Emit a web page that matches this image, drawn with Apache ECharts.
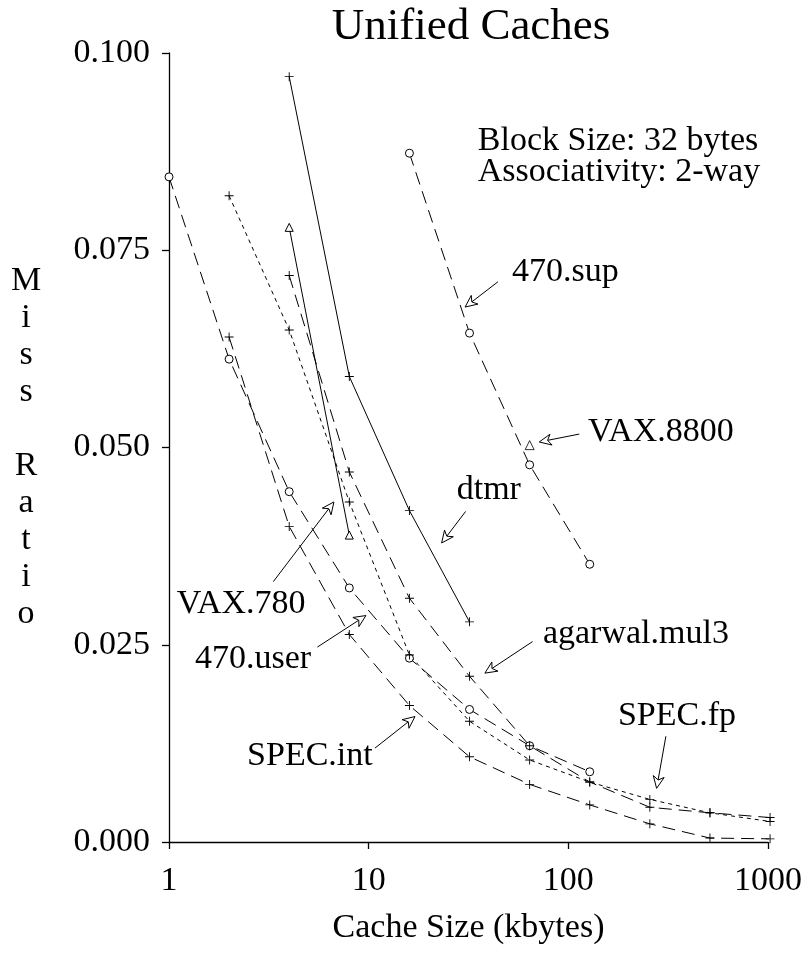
<!DOCTYPE html>
<html>
<head>
<meta charset="utf-8">
<script src="https://cdn.jsdelivr.net/npm/echarts@6/dist/echarts.min.js"></script>
<style>
html,body{margin:0;padding:0;background:#fff;}
#chart{width:809px;height:965px;}
</style>
</head>
<body>
<div id="chart"></div>
<script>
// ---- data (cache size in kbytes, miss ratio) ----
const sup470X = [16, 32, 64, 128];
const sup470Y = [0.0873, 0.0645, 0.0478, 0.0352];

const vax8800X = [64];
const vax8800Y = [0.0503];

const dtmrX = [4, 8, 16, 32];
const dtmrY = [0.0970, 0.0590, 0.0420, 0.0279];

const vax780X = [4, 8];
const vax780Y = [0.0779, 0.0389];

const user470X = [1, 2, 4, 8, 16, 32, 64, 128];
const user470Y = [0.0843, 0.0612, 0.0444, 0.0322, 0.0233, 0.0168, 0.0122, 0.0089];

const specFpX = [2, 4, 8, 16, 32, 64, 128, 256, 512, 1024];
const specFpY = [0.0819, 0.0649, 0.0431, 0.0237, 0.0153, 0.0104, 0.0076, 0.0054, 0.0037, 0.0026];

const agarwalX = [4, 8, 16, 32, 64, 128, 256, 512, 1024];
const agarwalY = [0.0718, 0.0469, 0.0309, 0.0210, 0.0122, 0.0076, 0.0044, 0.0037, 0.0031];

const specIntX = [2, 4, 8, 16, 32, 64, 128, 256, 512, 1024];
const specIntY = [0.0640, 0.0400, 0.0263, 0.0173, 0.0108, 0.0073, 0.0047, 0.0023, 0.0005, 0.0004];

const xTickLabels = ['1', '10', '100', '1000'];

// ---- annotations (data coordinates) ----
const annoText  = ['470.sup', 'VAX.8800', 'dtmr', 'VAX.780', '470.user', 'SPEC.int', 'agarwal.mul3', 'SPEC.fp'];
const annoTextX = [52.2, 125.4, 27.6, 1.093, 1.35, 2.46, 74.6, 177.2];
const annoTextY = [0.0722, 0.0520, 0.0446, 0.0301, 0.0232, 0.0109, 0.0264, 0.0159];
const arrowFromX = [44.4, 113.4, 30.6, 3.33, 5.53, 10.75, 66.2, 308];
const arrowFromY = [0.0710, 0.0517, 0.0419, 0.0330, 0.0247, 0.0119, 0.0254, 0.0134];
const arrowToX = [30.4, 71.5, 23.2, 6.70, 9.69, 17.06, 38.2, 276.8];
const arrowToY = [0.0678, 0.0507, 0.0379, 0.0431, 0.0287, 0.0159, 0.0214, 0.0068];

const noteText = ['Block Size: 32 bytes', 'Associativity: 2-way'];
const noteX = [35.2, 35.2];
const noteY = [0.0889, 0.0849];

const FONT = '"Liberation Serif", "Times New Roman", serif';
const PLUS = 'path://M4.5,0H5.5V10H4.5ZM0,4.5H10V5.5H0Z';

function pairs(xs, ys) { return xs.map((x, i) => [x, ys[i]]); }

function lineSeries(name, xs, ys, symbol, dash) {
  const isPlus = symbol === PLUS;
  return {
    name: name, type: 'line', data: pairs(xs, ys), clip: false,
    symbol: symbol, symbolSize: isPlus ? 9 : 8, showAllSymbol: true,
    lineStyle: { color: '#000', width: 1, type: dash },
    itemStyle: isPlus ? { color: '#000', borderWidth: 0 } : { color: '#fff', borderColor: '#000', borderWidth: 1 },
    emphasis: { disabled: true }, z: 3
  };
}

const chart = echarts.init(document.getElementById('chart'));
const LONG = [13, 7];
const SHORT = [4, 4];

chart.setOption({
  animation: false,
  backgroundColor: '#fff',
  title: {
    text: 'Unified Caches', left: 466, top: 0, textAlign: 'center',
    textStyle: { fontFamily: FONT, fontSize: 45, fontWeight: 'normal', color: '#000' }
  },
  grid: { left: 169, right: 41, top: 53, bottom: 123, containLabel: false },
  xAxis: {
    type: 'log', logBase: 10, min: 1, max: 1000,
    name: 'Cache Size (kbytes)', nameLocation: 'middle', nameGap: 86,
    nameTextStyle: { fontFamily: FONT, fontSize: 34, color: '#000', verticalAlign: 'middle' },
    axisLine: { show: true, lineStyle: { color: '#000', width: 1.3 } },
    axisTick: { show: true, length: 7, lineStyle: { color: '#000', width: 1.3 } },
    minorTick: { show: false },
    axisLabel: {
      fontFamily: FONT, fontSize: 34, color: '#000', margin: 22,
      formatter: function (v) {
        const k = Math.round(Math.log10(v));
        return xTickLabels[k] !== undefined ? xTickLabels[k] : String(v);
      }
    },
    splitLine: { show: false }
  },
  yAxis: {
    type: 'value', min: 0, max: 0.1, interval: 0.025,
    name: 'M\ni\ns\ns\n\nR\na\nt\ni\no', nameLocation: 'middle', nameRotate: 0, nameGap: 143,
    nameTextStyle: { fontFamily: FONT, fontSize: 34, color: '#000', align: 'center', verticalAlign: 'middle', lineHeight: 37 },
    axisLine: { show: true, lineStyle: { color: '#000', width: 1.3 } },
    axisTick: { show: true, length: 7, lineStyle: { color: '#000', width: 1.3 } },
    axisLabel: {
      fontFamily: FONT, fontSize: 34, color: '#000', margin: 19,
      formatter: function (v) { return v.toFixed(3); }
    },
    splitLine: { show: false }
  },
  series: [
    lineSeries('470.sup', sup470X, sup470Y, 'circle', LONG),
    {
      name: 'VAX.8800', type: 'scatter', data: pairs(vax8800X, vax8800Y), clip: false,
      symbol: 'triangle', symbolSize: 9,
      itemStyle: { color: '#fff', borderColor: '#000', borderWidth: 1 }, z: 3
    },
    lineSeries('dtmr', dtmrX, dtmrY, PLUS, 'solid'),
    lineSeries('VAX.780', vax780X, vax780Y, 'triangle', 'solid'),
    lineSeries('470.user', user470X, user470Y, 'circle', LONG),
    lineSeries('SPEC.fp', specFpX, specFpY, PLUS, SHORT),
    lineSeries('agarwal.mul3', agarwalX, agarwalY, PLUS, LONG),
    lineSeries('SPEC.int', specIntX, specIntY, PLUS, LONG),
    {
      type: 'custom', name: 'annotations', clip: false, z: 5, silent: true,
      data: annoText.map((t, i) => [arrowToX[i], arrowToY[i]]),
      encode: { x: 0, y: 1 },
      renderItem: function (params, api) {
        const i = params.dataIndex;
        const p0 = api.coord([arrowFromX[i], arrowFromY[i]]);
        const p1 = api.coord([arrowToX[i], arrowToY[i]]);
        const t = api.coord([annoTextX[i], annoTextY[i]]);
        const dx = p1[0] - p0[0], dy = p1[1] - p0[1];
        const len = Math.sqrt(dx * dx + dy * dy);
        const ux = dx / len, uy = dy / len, nx = -uy, ny = ux;
        const L = 12, W = 5.5, N = 3.5;
        const bx = p1[0] - ux * L, by = p1[1] - uy * L;
        const pts = [
          [p1[0], p1[1]],
          [bx + nx * W, by + ny * W],
          [p1[0] - ux * (L - N), p1[1] - uy * (L - N)],
          [bx - nx * W, by - ny * W]
        ];
        return {
          type: 'group',
          children: [
            { type: 'line', shape: { x1: p0[0], y1: p0[1], x2: p1[0] - ux * (L - N), y2: p1[1] - uy * (L - N) },
              style: { stroke: '#000', lineWidth: 1 } },
            { type: 'polygon', shape: { points: pts }, style: { fill: '#fff', stroke: '#000', lineWidth: 1 } },
            { type: 'text', x: t[0], y: t[1],
              style: { text: annoText[i], fill: '#000', font: '34px ' + FONT, align: 'left', verticalAlign: 'middle' } }
          ]
        };
      }
    },
    {
      type: 'custom', name: 'notes', clip: false, z: 5, silent: true,
      data: noteText.map((t, i) => [noteX[i], noteY[i]]),
      encode: { x: 0, y: 1 },
      renderItem: function (params, api) {
        const i = params.dataIndex;
        const t = api.coord([noteX[i], noteY[i]]);
        return { type: 'text', x: t[0], y: t[1],
          style: { text: noteText[i], fill: '#000', font: '34px ' + FONT, align: 'left', verticalAlign: 'middle' } };
      }
    }
  ]
});
</script>
</body>
</html>
